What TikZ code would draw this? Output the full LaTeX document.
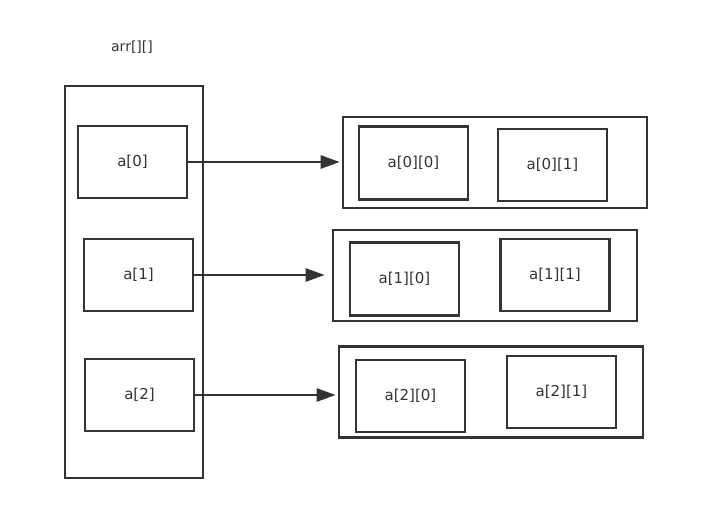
\documentclass[tikz,border=0pt]{standalone}
\usepackage{fontspec}
\setmainfont{DejaVu Sans}
\usepackage{tikz}
\usepackage{xcolor}
\usetikzlibrary{arrows.meta}

\definecolor{ink}{HTML}{333333}

\begin{document}
\begin{tikzpicture}[x=1pt, y=-1pt,
  cell/.style={rectangle, draw=ink, line width=2.6pt, text=ink, inner sep=0pt, minimum width=109pt, minimum height=72pt, font=\fontsize{15}{17}\selectfont},
  frame/.style={rectangle, draw=ink, line width=2.6pt, inner sep=0pt},
  link/.style={draw=ink, line width=2.6pt, -{Triangle[length=19pt, width=13pt]}, shorten >=2pt}]
\useasboundingbox (0,0) rectangle (701,523);

% the array of references
\node[text=ink, font=\fontsize{14}{16}\selectfont] (name) at (132,47) {arr[][]};
\node[frame, minimum width=138pt, minimum height=392pt] (arr) at (134,282) {};
\node[cell] (a0) at (132.5,162) {a[0]};
\node[cell] (a1) at (138.5,275) {a[1]};
\node[cell] (a2) at (139.5,395) {a[2]};

% the rows
\node[frame, minimum width=304pt, minimum height=91pt] (row0) at (495,162.5) {};
\node[cell, minimum height=73pt] (a00) at (413.5,163) {a[0][0]};
\node[cell] (a01) at (552.5,165) {a[0][1]};

\node[frame, minimum width=304pt, minimum height=91pt] (row1) at (485,275.5) {};
\node[cell, minimum height=73pt] (a10) at (404.5,279) {a[1][0]};
\node[cell] (a11) at (555,275) {a[1][1]};

\node[frame, minimum width=304pt, minimum height=91pt] (row2) at (491,392) {};
\node[cell] (a20) at (410.5,396) {a[2][0]};
\node[cell] (a21) at (561.5,392) {a[2][1]};

% pointers
\draw[link] (a0.east) -- (a0.east -| row0.west);
\draw[link] (a1.east) -- ([xshift=-5pt]a1.east -| row1.west);
\draw[link] (a2.east) -- (a2.east -| row2.west);
\end{tikzpicture}
\end{document}
